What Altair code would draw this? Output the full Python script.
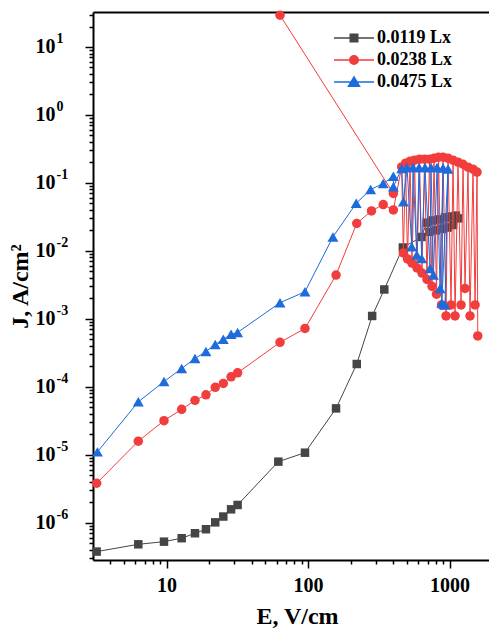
import altair as alt
import pandas as pd

series_labels = ["0.0119 Lx", "0.0238 Lx", "0.0475 Lx"]
series_keys = ["a", "b", "c"]
colors = ["#454545", "#F23D3D", "#1E6BDB"]
shapes = ["square", "circle", "triangle-up"]
marker_sizes = [72, 90, 120]
# legend glyphs: a line through the marker (unit = half the symbol size)
legend_glyphs = [
    "M-4,0H4M-0.75,-0.75H0.75V0.75H-0.75Z",
    "M-4,0H4M-0.85,0A0.85,0.85,0,1,1,0.85,0A0.85,0.85,0,1,1,-0.85,0Z",
    "M-4,0H4M0,-1L1.1,0.85H-1.1Z",
]

# 0.0119 Lx
e_black = [3.21, 6.32, 9.6, 12.8, 15.9, 19.0, 22.1, 25.2, 28.6, 31.8, 61.7, 95.2, 157.8, 221, 284, 346,
           468, 634, 690, 720, 760, 800, 840, 880, 930, 970, 1020, 1060, 1110, 1150]
j_black = [3.75e-7, 4.8e-7, 5.25e-7, 5.9e-7, 6.98e-7, 8.0e-7, 1.01e-6, 1.23e-6, 1.57e-6, 1.82e-6, 7.9e-6,
           1.07e-5, 4.8e-5, 2.16e-4, 1.1e-3, 2.7e-3, 0.0112, 0.016, 0.026, 0.019, 0.028, 0.020, 0.029,
           0.021, 0.031, 0.022, 0.032, 0.024, 0.033, 0.030]

# 0.0238 Lx
e_red = [3.21, 6.32, 9.6, 12.8, 15.9, 19.0, 22.1, 25.2, 28.6, 31.8, 63.4, 95.2, 157.8, 221, 281, 340, 401,
         459, 472, 489, 505, 526, 543, 566, 589, 614, 639, 666, 693, 722, 752, 777, 809, 836, 878, 900, 945,
         976, 1025, 1059, 1094, 1148, 1206, 1246, 1287, 1351, 1396, 1466, 1515, 1565, 1583]
j_red = [3.8e-6, 1.58e-5, 3.17e-5, 4.65e-5, 6.3e-5, 7.6e-5, 9.8e-5, 1.12e-4, 1.4e-4, 1.6e-4, 4.5e-4, 7.2e-4,
         4.4e-3, 0.0253, 0.0387, 0.048, 0.040,
         0.172, 0.0093, 0.195, 0.0076, 0.209, 0.0066, 0.216, 0.0056, 0.223, 0.0047, 0.223, 0.0038, 0.223,
         0.0030, 0.231, 0.0023, 0.239, 0.0016, 0.239, 0.0011, 0.231, 0.0016, 0.216, 0.0011, 0.202, 0.0016,
         0.188, 0.0028, 0.170, 0.0011, 0.159, 0.0016, 0.144, 0.00056]
# 0.0238 Lx stray reading and its connecting segment
e_red_stray = [63.4, 401]
j_red_stray = [29.3, 0.070]

# 0.0475 Lx
e_blue = [3.25, 6.32, 9.6, 12.8, 15.9, 19.0, 22.1, 25.2, 28.6, 31.8, 63.4, 95.2, 150, 219, 277, 340,
          401, 401, 459, 472, 501, 541, 552, 587, 609, 636, 671, 728, 740, 769, 816, 857, 900, 881, 976, 929]
j_blue = [1.1e-5, 6.0e-5, 1.19e-4, 1.86e-4, 2.6e-4, 3.3e-4, 4.2e-4, 5.0e-4, 5.9e-4, 6.3e-4, 1.72e-3, 2.5e-3,
          0.016, 0.05, 0.08, 0.098, 0.125, 0.088, 0.163, 0.0526, 0.168, 0.0115, 0.168, 0.0087, 0.168, 0.0077,
          0.168, 0.0055, 0.168, 0.0044, 0.168, 0.0028, 0.165, 0.0017, 0.16, 0.0016]

x_major = [10, 100, 1000]
x_minor = [3, 4, 5, 6, 7, 8, 9, 20, 30, 40, 50, 60, 70, 80, 90, 200, 300, 400, 500, 600, 700, 800, 900]
y_major = [1e-6, 1e-5, 1e-4, 1e-3, 1e-2, 1e-1, 1.0, 10.0]
y_major_exp = ["-6", "-5", "-4", "-3", "-2", "-1", "0", "1"]
y_minor = [v for v in (float(f"{m}e{e}") for e in range(-7, 2) for m in range(2, 10)) if 2.8e-7 <= v <= 32]

rows = []
def add(label, key, seg, es, js):
    for i, (e, j) in enumerate(zip(es, js)):
        rows.append({"series": label, "key": key, "seg": seg, "idx": i, "E": e, "J": j})

add(series_labels[0], "a", "a0", e_black, j_black)
add(series_labels[1], "b", "b0", e_red, j_red)
add(series_labels[1], "b", "b1", e_red_stray, j_red_stray)
add(series_labels[2], "c", "c0", e_blue, j_blue)
df = pd.DataFrame(rows)

xscale = alt.Scale(type="log", domain=[3.024, 1901], nice=False)
yscale = alt.Scale(type="log", domain=[2.82e-7, 32.7], nice=False)

exp_arr = "[" + ",".join("'" + t + "'" for t in y_major_exp) + "]"

x_axis_major = alt.Axis(
    orient="bottom", values=x_major, format="d", tickSize=8, domain=True,
    labelFlush=False, labelOverlap=False, labelPadding=7, grid=False,
    title="E, V/cm", titleX=204, titleY=63, titleBaseline="alphabetic", titleAlign="center",
)
x_axis_minor = alt.Axis(orient="bottom", values=x_minor, tickSize=4, labels=False, domain=False,
                        grid=False, title=None)
x_axis_top = alt.Axis(orient="top", labels=False, ticks=False, domain=True, grid=False, title=None)
y_axis_major = alt.Axis(
    orient="left", values=y_major, tickSize=8, domain=True,
    labelExpr="'10'", labelAlign="right",
    labelFlush=False, labelOverlap=False, labelPadding=30, grid=False,
    title="J, A/cm\u00b2", titleX=-66, titleY=274, titleBaseline="alphabetic", titleAlign="center",
)
y_axis_exp = alt.Axis(
    orient="left", values=y_major, ticks=False, tickSize=0, domain=False, grid=False, title=None,
    labelExpr=f"{exp_arr}[round(log(datum.value)/LN10) + 6]", labelAlign="left",
    labelFontSize=14, labelOffset=-8, labelPadding=37, labelFlush=False, labelOverlap=False,
)
y_axis_minor = alt.Axis(orient="left", values=y_minor, tickSize=4, labels=False, domain=False,
                        grid=False, title=None)

legend_cfg = alt.Legend(title=None, orient="none", legendX=252, legendY=17, symbolSize=100,
                        symbolStrokeWidth=1.5, labelOffset=14, rowPadding=4, padding=0)

axes_plan = [
    (x_axis_major, y_axis_major),
    (x_axis_minor, y_axis_minor),
    (x_axis_top, y_axis_exp),
]

base = alt.Chart(df)
layers = []
n = 0
for i, key in enumerate(series_keys):
    for kind in ("line", "pts"):
        xa, ya = axes_plan[n] if n < len(axes_plan) else (None, None)
        n += 1
        x = alt.X("E:Q", scale=xscale, axis=xa) if xa is not None else alt.X("E:Q", scale=xscale, axis=None)
        y = alt.Y("J:Q", scale=yscale, axis=ya) if ya is not None else alt.Y("J:Q", scale=yscale, axis=None)
        sub = base.transform_filter(alt.datum.key == key)
        if kind == "line":
            layer = sub.mark_line(strokeWidth=1, color=colors[i]).encode(
                x=x, y=y, detail="seg:N", order=alt.Order("idx:Q"),
            )
        else:
            layer = sub.mark_point(filled=True, opacity=1, size=marker_sizes[i], strokeWidth=0,
                                   shape=shapes[i], color=colors[i]).encode(x=x, y=y)
        layers.append(layer)

# legend only (no rows pass the filter): line-through-marker glyphs
legend_layer = base.transform_filter("datum.key == 'none'").mark_point(
    filled=True, opacity=1, size=100, strokeWidth=1.5).encode(
    x=alt.X("E:Q", scale=xscale, axis=None),
    y=alt.Y("J:Q", scale=yscale, axis=None),
    fill=alt.Fill("series:N", scale=alt.Scale(domain=series_labels, range=colors), legend=legend_cfg),
    stroke=alt.Stroke("series:N", scale=alt.Scale(domain=series_labels, range=colors), legend=legend_cfg),
    shape=alt.Shape("series:N", scale=alt.Scale(domain=series_labels, range=legend_glyphs), legend=legend_cfg),
)
layers.append(legend_layer)

chart = alt.layer(*layers).resolve_axis(x="independent", y="independent").properties(
    width=396, height=548,
    autosize=alt.AutoSizeParams(type="none"),
    padding={"left": 93, "top": 12, "right": 0, "bottom": 68},
).configure_view(strokeWidth=0).configure_axis(
    domainColor="black", domainWidth=2, tickColor="black", tickWidth=1.5,
    labelFont="Liberation Serif", labelFontWeight="bold", labelFontSize=20, labelColor="black",
    titleFont="Liberation Serif", titleFontWeight="bold", titleFontSize=24, titleColor="black",
).configure_legend(
    labelFont="Liberation Serif", labelFontWeight="bold", labelFontSize=18, labelColor="black",
)

chart.save("out.html", embed_options={"renderer": "svg", "actions": False})
